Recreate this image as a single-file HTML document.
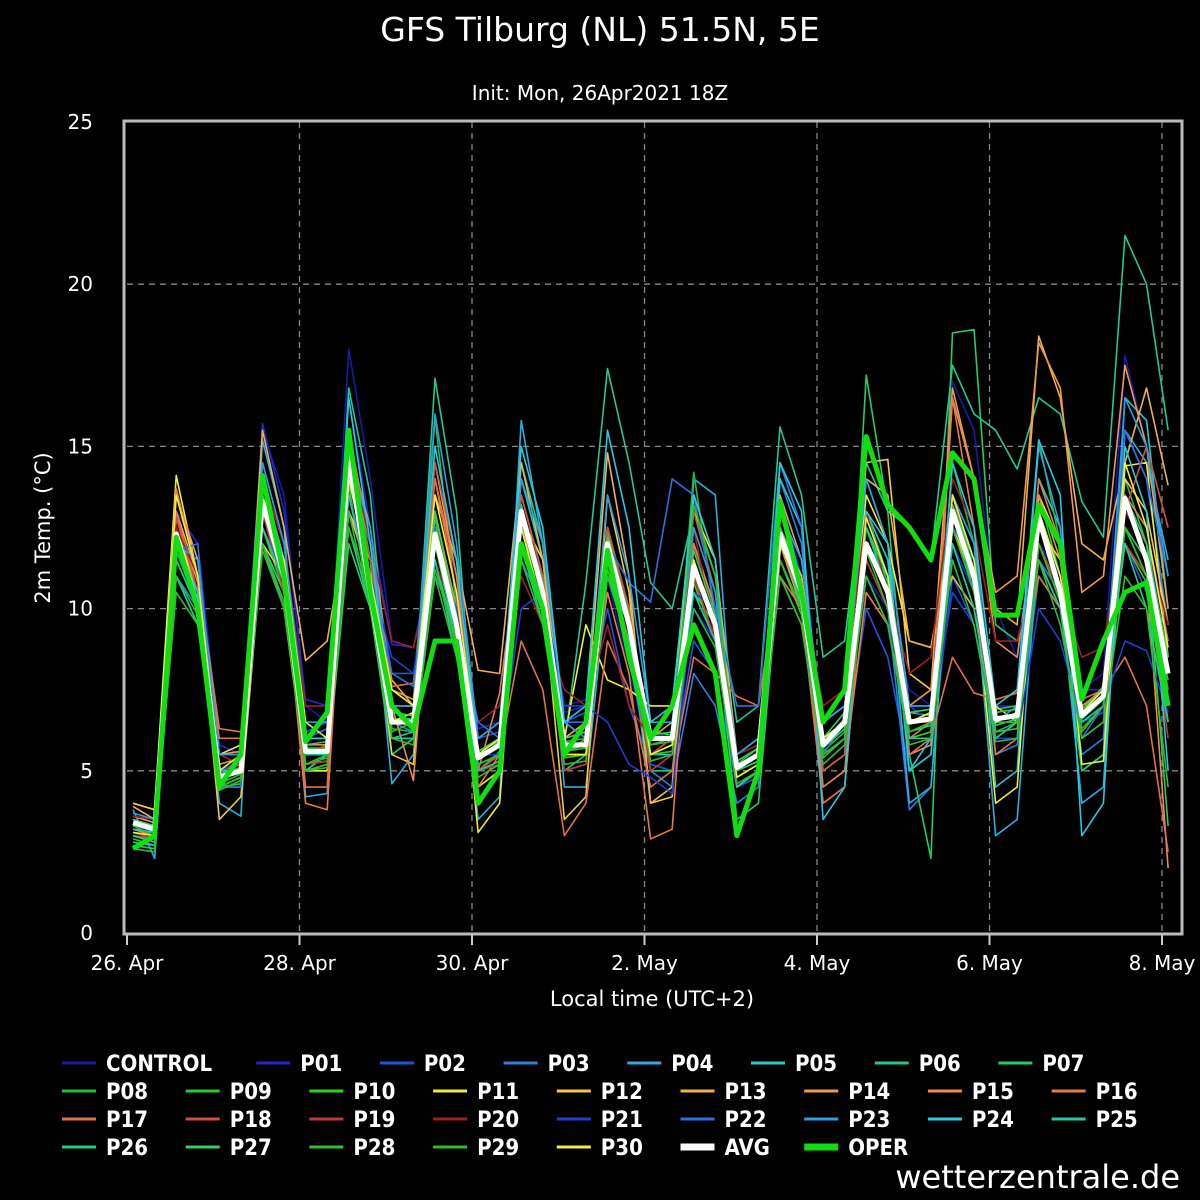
<!DOCTYPE html>
<html><head><meta charset="utf-8"><style>
html,body{margin:0;padding:0;background:#000;width:1200px;height:1200px;overflow:hidden}
svg text{fill:#fff}
</style></head><body>
<svg id="chart" width="1200" height="1200" xmlns="http://www.w3.org/2000/svg" style="font-family:'DejaVu Sans','Liberation Sans',sans-serif">
<rect width="1200" height="1200" fill="#000"/>
<text x="600" y="41" text-anchor="middle" font-size="33">GFS Tilburg (NL) 51.5N, 5E</text>
<text x="600" y="100" text-anchor="middle" font-size="20">Init: Mon, 26Apr2021 18Z</text>
<text transform="translate(50,528) rotate(-90)" text-anchor="middle" font-size="21">2m Temp. (°C)</text>
<text x="652" y="1006" text-anchor="middle" font-size="21">Local time (UTC+2)</text>
<g id="grid"></g><g id="series"></g><g id="axes"></g><g id="legend"></g>
<text x="1180" y="1188" text-anchor="end" font-size="32">wetterzentrale.de</text>
</svg>
<script>
const yTicks=[0,5,10,15,20,25];
const xTickLabels=["26. Apr","28. Apr","30. Apr","2. May","4. May","6. May","8. May"];
const xTickDays=[0,2,4,6,8,10,12];
const AVG=[3.4,3.2,12.3,10.0,4.8,5.0,13.3,11.0,5.6,5.6,14.7,10.5,6.5,6.5,12.3,9.5,5.4,5.8,13.0,10.5,5.8,5.8,12.0,9.5,6.0,6.0,11.3,9.5,5.1,5.5,12.3,10.5,5.8,6.5,12.0,10.5,6.5,6.6,13.0,11.0,6.6,6.7,12.8,10.5,6.7,7.3,13.4,11.5,8.0];
const OPER=[2.6,3.0,12.2,10.0,4.5,5.5,14.1,11.0,5.9,6.8,15.5,10.5,7.0,6.3,9.0,9.0,4.0,5.0,12.0,10.0,5.5,6.5,11.8,8.5,6.0,7.0,9.5,8.0,3.0,5.0,13.3,10.5,6.5,7.5,15.3,13.2,12.5,11.5,14.8,14.0,9.8,9.8,13.2,12.0,7.2,9.0,10.5,10.8,7.0];
const M=[
[3.2,3.0,13.5,11.5,5.5,5.2,15.5,13.5,7.0,6.5,18.0,14.0,9.0,8.8,11.5,9.0,6.0,6.5,12.0,11.0,7.0,7.2,11.0,8.0,6.0,6.2,10.5,9.0,5.0,5.5,13.5,11.0,6.0,6.5,11.0,10.0,7.5,7.0,17.0,15.5,10.0,8.5,12.0,11.0,7.5,8.0,17.8,15.0,10.0],
[3.5,3.3,13.0,12.0,5.8,5.5,15.7,13.0,7.2,7.0,16.5,12.5,8.9,8.8,12.0,10.0,6.3,6.5,12.5,10.5,6.8,7.0,11.5,9.0,6.0,6.0,10.0,9.0,5.0,5.5,13.0,11.0,6.0,6.5,12.5,11.0,6.5,6.5,12.0,10.5,7.0,7.0,12.5,11.0,7.5,7.5,13.0,12.0,9.0],
[3.3,3.0,12.5,11.0,5.0,5.2,14.5,12.0,6.2,6.5,14.0,12.0,8.0,8.0,11.0,9.5,6.0,6.2,13.5,11.0,6.5,6.8,10.0,7.0,5.2,5.0,9.0,8.0,4.5,4.8,11.0,9.5,5.0,5.5,10.0,8.5,5.0,5.5,11.0,9.5,6.0,6.5,11.5,10.0,6.5,6.8,12.0,10.5,8.5],
[3.0,2.8,11.0,10.0,4.5,4.8,13.0,10.5,5.5,5.8,13.5,11.0,6.5,6.2,12.5,10.0,5.0,5.5,11.5,10.0,5.5,5.5,12.0,8.5,5.0,4.5,8.0,7.0,4.0,4.5,14.0,12.0,5.5,6.0,11.5,10.0,3.8,4.5,12.5,11.0,5.5,5.8,11.0,10.0,5.5,6.0,15.5,14.0,9.5],
[3.8,2.3,11.5,10.0,4.0,3.6,15.2,12.5,4.2,4.3,15.0,11.5,4.6,5.5,12.0,9.5,3.5,4.2,15.8,12.0,4.5,4.5,11.0,9.5,4.0,4.5,14.0,13.5,4.5,5.0,14.5,12.5,4.5,5.0,12.0,11.0,4.0,4.5,12.5,11.0,3.0,3.5,12.0,10.5,4.0,4.5,15.5,14.5,11.5],
[3.5,3.2,12.0,11.0,4.5,4.5,14.0,11.5,5.0,5.5,13.0,11.0,5.5,6.0,11.5,9.0,5.0,5.5,14.0,11.5,5.5,5.5,12.5,9.5,5.5,5.5,12.0,10.0,4.5,5.0,14.0,12.5,5.0,5.5,13.0,11.5,5.0,5.5,13.5,12.0,4.5,5.0,14.0,12.5,5.0,5.5,16.5,15.8,10.0],
[3.0,2.8,12.0,10.5,4.8,5.0,13.5,11.0,5.5,5.5,16.8,13.5,6.5,6.5,17.1,13.0,4.5,5.0,14.5,12.0,5.8,10.8,17.4,14.5,10.8,10.0,13.0,11.0,6.5,7.0,15.6,13.5,8.5,9.0,14.5,13.0,12.5,11.5,17.5,16.0,15.5,14.3,16.5,16.0,13.3,12.2,21.5,20.0,15.5],
[2.7,2.6,11.5,10.0,4.5,4.8,12.0,10.5,5.0,5.0,12.0,10.0,5.5,6.0,12.5,10.0,4.5,5.0,12.0,10.0,5.0,5.5,11.5,9.0,5.0,5.0,10.5,9.5,3.5,4.0,11.5,10.0,5.0,5.5,17.2,13.0,5.5,2.3,18.5,18.6,9.5,9.0,11.5,10.0,5.0,5.5,12.5,11.5,3.3],
[3.1,3.0,11.8,10.0,4.6,4.9,13.8,11.0,5.2,5.4,15.2,11.5,6.3,6.2,15.9,10.0,5.0,5.6,13.2,10.5,5.6,5.7,12.5,9.8,5.8,5.9,14.2,9.7,5.0,5.3,13.0,10.6,5.6,6.2,13.0,11.0,6.0,6.2,14.5,12.0,6.2,6.5,15.2,12.0,6.5,7.0,14.0,12.0,6.5],
[3.3,3.1,12.5,10.2,5.0,5.0,13.0,11.2,5.7,5.7,14.5,10.8,6.6,6.6,12.8,9.2,5.6,5.9,12.6,10.4,5.9,6.0,12.4,9.3,6.2,6.1,11.0,9.6,5.2,5.7,12.0,10.2,5.9,6.6,12.5,10.8,6.8,6.7,13.5,11.2,6.9,7.0,13.5,11.0,6.9,7.6,12.5,11.0,7.5],
[2.9,2.7,11.0,9.5,4.5,4.6,12.5,10.5,5.0,5.2,13.8,10.0,6.0,6.0,11.5,8.8,5.0,5.3,12.0,9.8,5.4,5.5,11.2,9.0,5.5,5.6,10.8,9.0,4.8,5.2,11.5,9.8,5.4,6.0,11.0,9.5,6.0,6.2,12.0,10.0,6.2,6.3,12.0,10.2,6.2,7.0,12.0,10.8,7.8],
[4.0,3.8,14.1,11.0,5.5,5.8,12.0,10.0,5.0,5.0,13.0,11.0,6.5,6.8,12.0,10.0,3.1,4.0,12.8,11.5,6.0,9.5,7.8,7.5,7.0,7.0,13.0,11.5,5.0,5.5,12.0,11.0,6.5,7.0,13.5,12.0,9.0,8.8,12.5,11.0,4.0,4.5,13.5,12.0,5.2,5.3,14.4,14.5,8.5],
[4.0,3.8,12.5,10.5,3.5,4.2,12.0,11.0,5.2,5.3,13.0,11.5,5.5,5.2,12.5,10.0,4.5,5.0,13.0,10.5,3.5,4.2,13.5,10.5,4.0,4.2,12.0,10.0,4.5,5.0,12.5,10.5,6.0,6.5,14.5,14.6,8.0,7.5,12.5,10.8,7.0,6.5,12.5,11.5,6.5,7.0,14.0,13.0,9.5],
[3.9,3.5,13.0,11.0,5.0,5.2,15.5,12.5,8.4,9.0,13.0,11.0,7.8,7.0,13.5,11.5,8.1,8.0,14.5,11.5,6.0,6.5,14.8,11.0,4.0,4.5,13.5,11.5,5.5,6.0,12.5,11.0,6.5,7.0,14.0,13.5,9.0,8.8,11.0,10.0,10.0,9.5,18.4,16.5,12.0,11.5,14.5,16.8,13.8],
[3.6,3.4,13.5,11.5,5.5,5.6,14.0,12.0,6.0,6.0,15.0,12.5,7.5,7.2,14.5,11.0,6.0,6.5,13.5,11.0,6.0,6.2,12.5,10.0,6.0,6.5,12.0,10.0,5.5,6.0,13.5,11.5,6.5,7.0,14.0,12.0,7.0,7.5,16.8,14.0,10.5,11.0,18.2,16.8,10.5,11.0,17.5,15.0,10.0],
[3.4,3.2,12.8,10.8,5.2,5.4,13.5,11.5,5.8,5.8,14.0,11.5,7.0,4.7,13.0,10.0,5.2,5.5,12.5,10.5,5.5,5.5,11.5,9.5,5.5,5.8,11.0,9.0,4.5,5.0,12.0,10.0,4.0,4.5,12.0,10.5,5.5,5.8,16.5,14.0,9.0,8.5,13.5,11.5,7.0,7.5,12.0,11.0,2.0],
[3.2,3.0,13.7,11.0,6.3,6.2,13.0,11.0,4.0,3.8,14.5,12.0,7.0,7.0,14.0,11.0,5.0,7.4,12.5,11.0,6.5,6.0,10.5,8.0,2.9,3.2,12.0,10.0,4.5,5.0,11.0,10.0,4.5,5.0,10.5,9.5,6.0,6.5,16.5,12.5,5.5,6.0,14.0,12.0,6.0,6.5,13.5,12.5,9.0],
[3.5,3.3,13.0,10.5,6.0,6.0,14.0,11.5,4.5,4.5,15.5,12.0,7.6,7.7,14.0,10.5,4.5,5.5,9.0,7.5,3.0,4.0,9.0,7.5,4.5,5.0,8.5,8.0,7.3,7.0,11.5,10.0,4.0,4.5,12.0,10.5,5.5,6.0,8.5,7.4,7.2,7.4,11.0,10.0,7.2,7.5,8.5,7.0,2.5],
[3.0,2.9,12.8,10.5,5.0,5.2,13.0,11.0,5.5,5.8,14.5,11.5,7.0,7.0,14.5,11.5,5.0,5.5,13.5,11.0,5.5,6.0,12.5,10.0,5.5,6.0,13.0,10.5,4.5,5.0,12.5,10.5,5.0,5.5,12.0,10.5,6.5,6.5,13.5,11.0,6.5,6.8,13.0,11.0,6.5,7.0,13.0,15.0,12.5],
[3.1,2.9,12.0,10.0,4.8,5.0,13.0,10.5,5.2,5.3,13.5,11.0,6.5,6.5,12.0,9.5,5.0,5.2,12.0,10.0,5.0,5.2,11.5,9.0,5.0,5.5,11.0,9.0,4.5,5.0,11.5,10.0,5.5,6.0,11.5,10.0,6.5,6.5,12.5,10.5,6.0,6.5,12.0,10.5,6.5,7.0,12.0,11.0,6.0],
[3.6,3.5,12.5,11.0,5.5,5.2,14.0,12.0,7.0,7.0,15.0,12.0,9.0,8.8,11.5,9.5,6.5,7.0,11.0,9.5,7.5,7.0,9.5,7.0,6.0,6.0,12.5,9.0,5.5,5.8,12.0,10.5,7.0,7.5,13.0,10.5,8.0,8.5,14.0,12.5,9.0,9.0,11.5,10.5,8.5,8.8,13.0,12.0,9.5],
[3.3,3.1,11.5,10.0,5.0,5.3,13.5,11.0,6.5,6.5,14.0,11.0,8.5,8.0,12.0,10.0,5.5,5.5,10.0,10.5,7.0,7.0,6.5,5.2,4.8,4.3,10.5,10.0,5.0,5.5,12.5,10.5,6.0,6.5,11.0,9.5,7.0,6.5,10.5,9.5,6.0,6.0,10.0,9.0,6.5,7.0,9.0,8.7,6.8],
[3.4,3.3,11.8,12.0,4.5,4.5,12.5,11.0,6.0,6.3,13.5,11.0,8.0,7.6,12.5,9.5,6.5,6.0,13.0,10.5,6.5,6.5,12.0,10.8,10.2,14.0,13.5,10.0,7.0,7.0,14.5,12.5,5.5,6.5,12.5,11.0,7.0,7.0,12.5,11.5,6.5,6.5,11.5,10.5,6.0,7.0,15.5,14.0,11.0],
[3.7,3.5,12.0,11.5,5.5,5.5,14.5,12.0,6.5,6.5,14.5,12.5,7.0,7.0,16.0,12.0,6.0,6.5,14.0,12.0,6.5,6.0,13.5,11.0,6.5,6.5,12.5,10.5,5.5,6.0,13.0,11.5,6.5,7.0,14.0,12.0,7.0,7.0,13.5,12.0,6.5,7.0,15.0,12.5,6.5,7.0,16.5,15.0,11.0],
[3.2,3.1,12.0,10.5,5.0,5.0,14.0,11.5,6.0,6.0,16.5,12.0,6.5,6.5,15.0,11.5,5.5,6.0,15.0,12.5,6.5,7.0,15.5,12.5,6.5,7.0,13.5,11.5,4.5,5.0,14.5,13.0,3.5,4.5,13.0,12.0,5.0,6.0,14.5,12.5,7.0,7.5,15.2,13.5,3.0,4.0,15.0,13.0,5.0],
[2.8,2.7,11.0,9.5,4.5,4.8,12.0,10.0,5.5,5.5,12.5,10.0,6.0,6.0,11.5,8.5,5.0,5.3,12.0,9.5,5.5,5.5,11.0,9.0,5.5,5.8,10.5,9.0,4.5,5.0,11.0,9.5,5.5,6.0,11.0,9.5,6.0,6.0,12.0,10.0,6.0,6.5,11.5,10.0,6.5,7.0,12.0,10.0,6.5],
[3.0,2.8,11.5,10.0,4.8,5.0,12.5,10.8,5.5,5.6,13.5,10.5,6.0,6.2,12.0,9.0,5.2,5.5,12.5,10.0,5.6,5.8,12.0,9.5,5.8,6.0,11.5,9.5,5.0,5.3,12.5,10.0,5.7,6.3,12.5,10.5,6.2,6.4,13.0,10.5,6.4,6.6,13.0,11.0,6.6,7.2,12.5,11.0,7.0],
[3.5,3.3,12.2,10.3,4.9,5.1,13.5,11.2,5.8,5.9,14.8,11.0,6.8,6.7,13.0,9.8,5.6,6.0,13.2,10.8,6.0,6.2,12.2,9.8,6.1,6.2,11.8,9.8,5.3,5.7,12.5,10.8,6.0,6.8,12.5,11.0,6.8,6.9,13.2,11.5,6.8,6.9,13.0,11.0,6.9,7.5,13.5,12.0,8.5],
[2.6,2.5,11.0,9.8,4.4,4.7,12.0,10.2,5.0,5.1,13.0,10.0,6.0,5.8,11.0,8.5,4.8,5.2,11.5,9.5,5.2,5.3,11.0,8.8,5.3,5.5,10.0,8.8,4.6,5.0,11.0,9.5,5.2,5.8,11.0,9.5,5.8,6.0,11.5,9.5,5.9,6.0,11.5,9.5,6.0,6.5,11.0,10.0,4.5],
[3.3,3.0,10.5,9.5,4.5,4.8,11.8,10.0,5.2,5.5,12.5,10.5,6.2,6.5,11.2,9.0,5.2,5.5,12.8,10.2,5.5,6.0,11.8,9.3,5.8,6.0,13.2,11.0,5.0,5.5,11.5,10.0,5.5,6.0,11.8,10.0,6.2,6.5,12.5,10.5,6.5,6.5,12.0,10.2,6.3,7.0,12.5,11.0,7.0],
[3.1,3.0,13.5,11.0,5.0,5.5,13.0,11.5,6.5,6.0,14.0,11.0,7.5,7.0,13.5,10.5,5.5,6.0,12.5,10.0,5.5,5.5,12.0,9.5,5.5,5.8,11.5,9.5,4.8,5.2,12.0,10.5,6.0,6.5,12.8,11.0,6.5,6.8,13.5,11.5,6.5,6.8,13.0,11.0,6.8,7.5,14.5,12.5,8.8]
];
const names=["CONTROL","P01","P02","P03","P04","P05","P06","P07","P08","P09","P10","P11","P12","P13","P14","P15","P16","P17","P18","P19","P20","P21","P22","P23","P24","P25","P26","P27","P28","P29","P30"];
const colors=["#1a1aa8","#1a2ad0","#1e55e0","#2a80e0","#2aaee0","#2ac8c8","#22c890","#22cc66","#22bb44","#22cc33","#33cc22","#eeee33","#f0cc44","#f0b050","#f09a50","#f08a50","#e87a4a","#e0704a","#d05040","#c03838","#a02020","#1a40d0","#2a70e0","#2a9ee0","#2ac8dc","#22c8a0","#22cc80","#33cc66","#33bb33","#33bb22","#eeee44"];
const NS="http://www.w3.org/2000/svg";
const X0=127,X1=1180,YT=122,YB=933,PXDAY=86.25,START_H=1.7;
const xs=i=>X0+(START_H+i*6)*PXDAY/24;
const ys=v=>YB-(v/25)*(YB-YT);
function mk(t,a,p){const e=document.createElementNS(NS,t);for(const k in a)e.setAttribute(k,a[k]);p.appendChild(e);return e;}
const grid=document.getElementById('grid'),axes=document.getElementById('axes'),ser=document.getElementById('series'),leg=document.getElementById('legend');
yTicks.forEach(v=>{
  if(v>0&&v<25){const l=mk('line',{x1:X0,x2:X1,y1:ys(v),y2:ys(v),stroke:'#888','stroke-dasharray':'6,5','stroke-width':1.3},grid);
  
  }
  const t=mk('text',{x:93,y:ys(v)+7,'text-anchor':'end','font-size':20},axes);t.textContent=v;
  
  
});
xTickDays.forEach((d,i)=>{
  const x=X0+d*PXDAY;
  if(i>0){const l=mk('line',{x1:x,x2:x,y1:YT,y2:YB,stroke:'#888','stroke-dasharray':'6,5','stroke-width':1.3},grid);
  
  }
  const tk=mk('line',{x1:x,x2:x,y1:YB,y2:YB+12,stroke:'#ccc','stroke-width':2},axes);
  
  
  const t=mk('text',{x:x,y:970,'text-anchor':'middle','font-size':20},axes);t.textContent=xTickLabels[i];
  
  
});
const frame=mk('rect',{x:124,y:121,width:1058,height:813,fill:'none',stroke:'#bbb','stroke-width':3},axes);


function line(arr,col,w,name){
  const p=mk('polyline',{points:arr.map((v,i)=>xs(i)+','+ys(v)).join(' '),fill:'none',stroke:col,'stroke-width':w,'stroke-linejoin':'round'},ser);
  
  
}
M.forEach((a,k)=>line(a,colors[k],1.6,'series-'+names[k].toLowerCase()));
line(AVG,'#fff',5,'series-avg');
line(OPER,'#11dd11',5,'series-oper');
const all=names.map((n,k)=>({n:n,c:colors[k],w:3})).concat([{n:'AVG',c:'#fff',w:7},{n:'OPER',c:'#11dd11',w:7}]);
const rowY=[1063,1091,1119,1147];
all.forEach((e,k)=>{
  let r,c;
  if(k<8){r=0;c=k===0?0:k+0.57;}else{r=Math.floor((k-8)/9)+1;c=(k-8)%9;}
  const lx=62+c*123.7,y=rowY[r];
  const g=mk('g',{},leg);
  
  
  mk('line',{x1:lx,x2:lx+34,y1:y,y2:y,stroke:e.c,'stroke-width':e.w},g);
  const t=mk('text',{x:lx+44,y:y+8,'font-size':22,'font-weight':'bold','font-stretch':'condensed'},g);t.textContent=e.n;
});
</script>
</body></html>
